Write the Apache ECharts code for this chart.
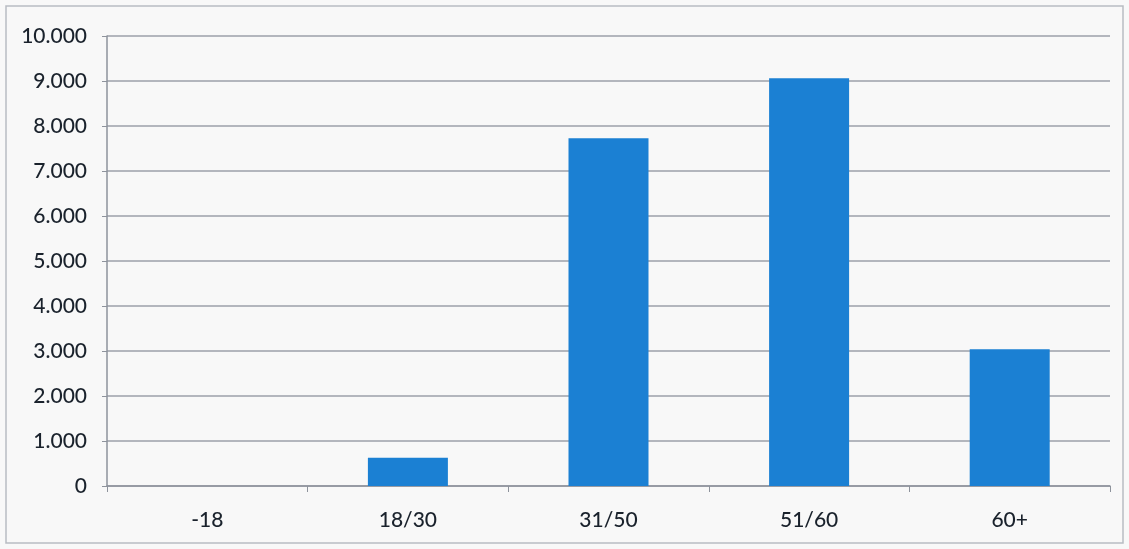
<!DOCTYPE html>
<html><head><meta charset="utf-8">
<script src="https://cdn.jsdelivr.net/npm/echarts@6/dist/echarts.min.js"></script>
<style>html,body{margin:0;padding:0;background:#f7f7f7}#c{width:1129px;height:549px}</style>
</head><body><div id="c"></div>
<script>
const categories = ['-18', '18/30', '31/50', '51/60', '60+'];
const values = [0, 630, 7730, 9060, 3040];
const yTicks = [0, 1000, 2000, 3000, 4000, 5000, 6000, 7000, 8000, 9000, 10000];

const chart = echarts.init(document.getElementById('c'));
chart.setOption({
  backgroundColor: '#f8f8f8',
  animation: false,
  graphic: [{
    type: 'rect', shape: {x: 6, y: 6, width: 1117, height: 537},
    style: {fill: 'none', stroke: '#b8bcc2', lineWidth: 1.5}, silent: true
  }],
  grid: {left: 107, right: 19, top: 36, bottom: 63},
  xAxis: {
    type: 'category', data: categories,
    axisLine: {lineStyle: {color: '#8e939c', width: 1.5}},
    axisTick: {show: true, length: 6, alignWithLabel: false, lineStyle: {color: '#8e939c'}},
    axisLabel: {color: '#1a222c', fontSize: 21, fontFamily: 'Lato', fontWeight: 500, margin: 24}
  },
  yAxis: {
    type: 'value', min: 0, max: 10000, interval: 1000,
    axisLine: {show: true, lineStyle: {color: '#8e939c', width: 1.5}},
    axisTick: {show: true, length: 5, lineStyle: {color: '#8e939c'}},
    splitLine: {lineStyle: {color: '#9da1aa', width: 1.5}},
    axisLabel: {
      color: '#1a222c', fontSize: 21, fontFamily: 'Lato', fontWeight: 500, margin: 20,
      formatter: v => yTicks.includes(v) ? v.toString().replace(/\B(?=(\d{3})+(?!\d))/g, '.') : ''
    }
  },
  series: [{
    type: 'bar', data: values, barWidth: 80,
    itemStyle: {color: '#1b80d3'}
  }]
});
</script></body></html>
